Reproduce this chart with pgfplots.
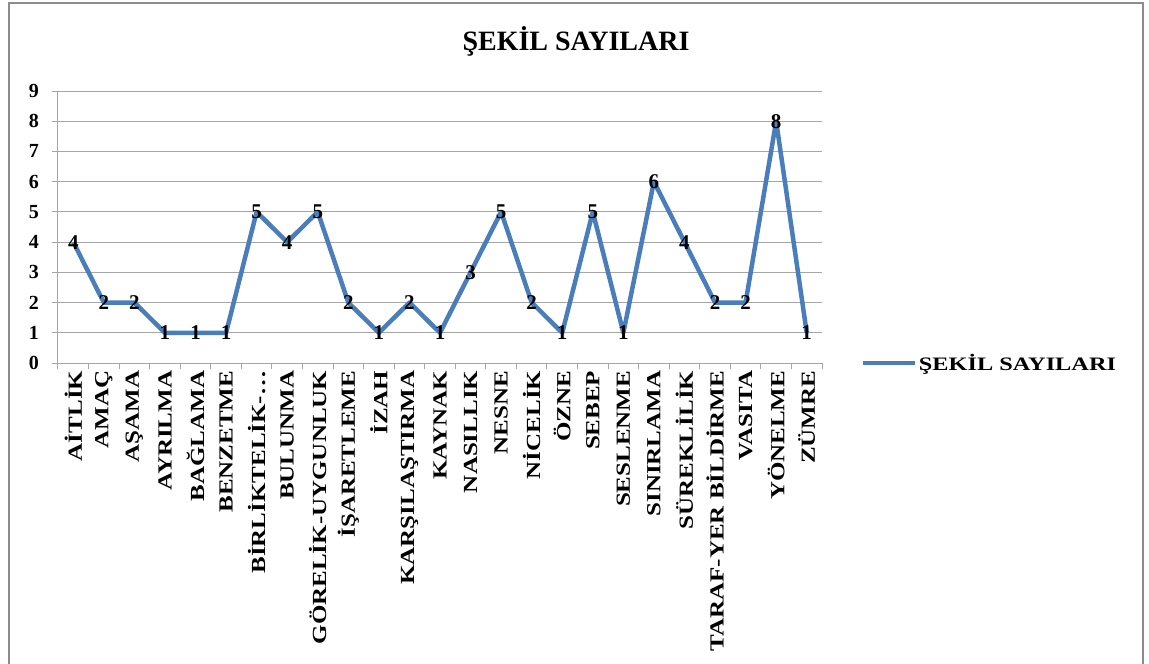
\documentclass[border=0pt]{standalone}
\usepackage{fontspec}
\setmainfont{Liberation Serif}
\usepackage{graphicx}
\usepackage{pgfplots}
\pgfplotsset{compat=1.18}
\definecolor{xblue}{HTML}{4A7EBB}
\definecolor{gridgray}{HTML}{A6A6A6}
\definecolor{framegray}{HTML}{8C8C8C}
\begin{document}
\begin{tikzpicture}[x=1pt,y=1pt]
\path[use as bounding box] (0,0) rectangle (1149,664);
\draw[framegray, line width=2.5pt] (9,0) -- (9,661) -- (1143,661) -- (1143,0);
\node[anchor=base, font=\fontsize{28}{28}\selectfont\bfseries] at (576,613) {ŞEKİL SAYILARI};
\begin{axis}[
  at={(58pt,301pt)}, anchor=south west,
  scale only axis, width=764pt, height=272pt,
  xmin=-0.5, xmax=24.5, ymin=0, ymax=9,
  axis lines*=left,
  axis line style={draw=gridgray, line width=1pt},
  ytick={0,...,9},
  ymajorgrids, grid style={gridgray, line width=1pt},
  xtick={-0.5,0.5,...,24.5}, xticklabels={},
  extra x ticks={0,...,24},
  extra x tick labels={AİTLİK,AMAÇ,AŞAMA,AYRILMA,BAĞLAMA,BENZETME,BİRLİKTELİK-…,BULUNMA,GÖRELİK-UYGUNLUK,İŞARETLEME,İZAH,KARŞILAŞTIRMA,KAYNAK,NASILLIK,NESNE,NİCELİK,ÖZNE,SEBEP,SESLENME,SINIRLAMA,SÜREKLİLİK,TARAF-YER BİLDİRME,VASITA,YÖNELME,ZÜMRE},
  extra x tick style={major tick length=0pt, xticklabel style={rotate=90, xscale=1.25, anchor=east, inner xsep=6pt}},
  tick align=outside, major tick length=6pt,
  tick style={gridgray, line width=1pt},
  xticklabel style={font=\fontsize{20}{20}\selectfont\bfseries},
  yticklabel style={font=\fontsize{20}{20}\selectfont\bfseries, inner xsep=13pt},
  /pgf/number format/assume math mode=true,
  legend style={at={(1.05,0)}, anchor=west, draw=none, fill=none,
    font=\fontsize{19}{19}\selectfont\bfseries, inner sep=0pt},
  legend cell align=left,
  legend image code/.code={\draw[#1] (0pt,0pt) -- (52pt,0pt);},
  clip=false,
]
\addplot[xblue, line width=4.5pt, line join=round,
  nodes near coords,
  every node near coord/.append style={anchor=center, text=black,
    font=\fontsize{21}{21}\selectfont\bfseries}]
coordinates {
(0,4) (1,2) (2,2) (3,1) (4,1) (5,1) (6,5) (7,4) (8,5) (9,2) (10,1) (11,2) (12,1)
(13,3) (14,5) (15,2) (16,1) (17,5) (18,1) (19,6) (20,4) (21,2) (22,2) (23,8) (24,1)
};
\addlegendentry{\scalebox{1.28}[1]{ŞEKİL SAYILARI}}
\end{axis}
\end{tikzpicture}
\end{document}
